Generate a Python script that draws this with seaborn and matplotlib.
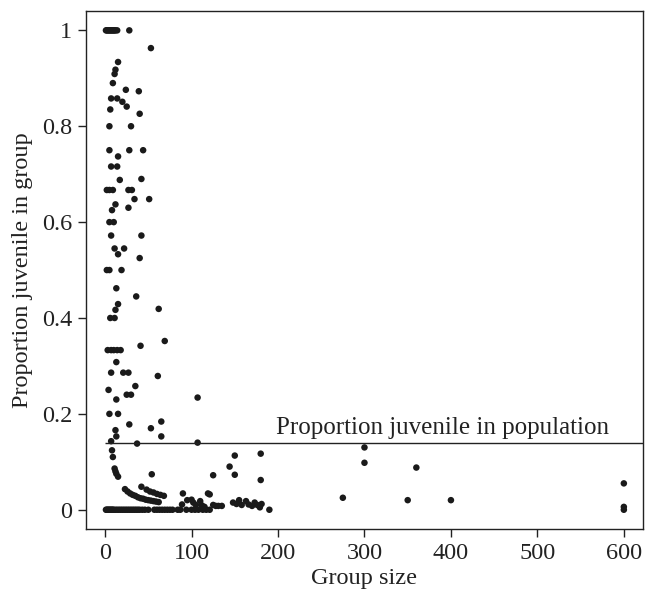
import matplotlib
matplotlib.use("Agg")
import matplotlib.pyplot as plt
import seaborn as sns
import pandas as pd

# Group size and proportion of juveniles per group
group_size = [
    # proportion = 1
    1, 2, 3, 4, 5, 6, 7, 8, 9, 10, 11, 12, 14, 28,
    # upper scatter
    53, 15, 12, 11, 9, 24, 39, 7, 14, 20, 25, 6, 40, 5, 30,
    5, 28, 44, 15, 7, 14, 17, 42, 2, 5, 9, 27, 31, 34, 51,
    12, 8, 27, 5, 10, 7, 42, 11, 22, 15, 40,
    2, 5, 19, 13, 36, 15, 12, 62, 6, 11, 69, 41,
    3, 7, 10, 14, 18, 13, 7, 21, 27, 61,
    4, 35, 25, 30, 13, 107, 5, 15, 28, 65, 53, 12, 13, 65, 7, 37, 107,
    8, 9, 11, 12, 13, 15, 54, 42,
    # low-proportion groups
    23, 26, 29, 32, 35, 38, 41, 44, 47, 50, 53, 56, 59, 62,
    48, 52, 56, 60, 64, 68,
    90, 89, 95, 100, 102, 105, 110, 112, 115, 119, 121, 125, 128, 131, 135,
    148, 152, 155, 158, 163, 166, 170, 173, 176, 179, 181,
    125, 144, 150, 150, 180, 180,
    275, 300, 300, 350, 360, 400, 600, 600, 600,
    # proportion = 0
    1, 2, 3, 4, 5, 6, 7, 8, 9, 10, 12, 14, 16, 18, 20, 22, 24, 26, 28, 30,
    32, 34, 36, 38, 40, 43, 46, 50, 57, 60, 63, 66, 69, 72, 75, 78,
    84, 87, 94, 100, 104, 108, 113, 117, 121, 190,
]
prop_juvenile = [
    1, 1, 1, 1, 1, 1, 1, 1, 1, 1, 1, 1, 1, 1,
    0.963, 0.934, 0.918, 0.909, 0.89, 0.876, 0.873, 0.858, 0.858, 0.851, 0.841, 0.835, 0.826, 0.80, 0.80,
    0.75, 0.75, 0.75, 0.737, 0.716, 0.716, 0.688, 0.69, 0.667, 0.667, 0.667, 0.667, 0.667, 0.648, 0.648,
    0.637, 0.625, 0.63, 0.60, 0.60, 0.572, 0.572, 0.545, 0.545, 0.533, 0.525,
    0.50, 0.50, 0.50, 0.462, 0.445, 0.429, 0.417, 0.419, 0.40, 0.40, 0.352, 0.342,
    0.333, 0.333, 0.333, 0.333, 0.333, 0.308, 0.286, 0.286, 0.286, 0.279,
    0.25, 0.258, 0.24, 0.24, 0.23, 0.234, 0.20, 0.20, 0.178, 0.184, 0.17, 0.166, 0.153, 0.153, 0.143, 0.138, 0.14,
    0.124, 0.11, 0.086, 0.08, 0.075, 0.069, 0.074, 0.048,
    0.043, 0.038, 0.034, 0.031, 0.029, 0.026, 0.024, 0.023, 0.021, 0.020, 0.019, 0.018, 0.017, 0.016,
    0.042, 0.038, 0.036, 0.033, 0.031, 0.029,
    0.034, 0.011, 0.02, 0.021, 0.015, 0.01, 0.018, 0.009, 0.006, 0.034, 0.032, 0.01, 0.008, 0.008, 0.008,
    0.015, 0.012, 0.02, 0.01, 0.018, 0.011, 0.008, 0.015, 0.01, 0.005, 0.012,
    0.072, 0.09, 0.113, 0.073, 0.117, 0.062,
    0.025, 0.13, 0.098, 0.02, 0.088, 0.02, 0.055, 0.006, 0.0,
    0, 0, 0, 0, 0, 0, 0, 0, 0, 0, 0, 0, 0, 0, 0, 0, 0, 0, 0, 0,
    0, 0, 0, 0, 0, 0, 0, 0, 0, 0, 0, 0, 0, 0, 0, 0,
    0, 0, 0, 0, 0, 0, 0, 0, 0, 0,
]
population_proportion = 0.14
reference_label = "Proportion juvenile in population"
x_ticks = [0, 100, 200, 300, 400, 500, 600]
y_ticks = [0, 0.2, 0.4, 0.6, 0.8, 1.0]
y_tick_labels = ["0", "0.2", "0.4", "0.6", "0.8", "1"]

df = pd.DataFrame({"Group size": group_size, "Proportion juvenile in group": prop_juvenile})

sns.set_theme(style="ticks")
plt.rcParams["font.family"] = ["Liberation Serif", "DejaVu Serif"]
ink = "#222222"

fig = plt.figure(figsize=(6.52, 5.89), dpi=100)
ax = fig.add_axes([0.132, 0.102, 0.854, 0.879])

sns.scatterplot(data=df, x="Group size", y="Proportion juvenile in group", ax=ax,
                color="#1a1a1a", s=22, linewidth=0, edgecolor="none")

ax.set_xlim(-22, 622)
ax.set_ylim(-0.04, 1.04)
ax.hlines(population_proportion, 0, 622, color=ink, linewidth=1.0)
ax.text(198, 0.158, reference_label, fontsize=18, color=ink, va="baseline", ha="left")

ax.set_xticks(x_ticks)
ax.set_yticks(y_ticks)
ax.set_yticklabels(y_tick_labels)
ax.tick_params(axis="both", direction="out", length=6, width=1, labelsize=17.5, colors=ink, pad=4)
for sp in ax.spines.values():
    sp.set_visible(True)
    sp.set_linewidth(1.0)
    sp.set_color(ink)

ax.set_xlabel("Group size", fontsize=17.5, color=ink, labelpad=3)
ax.set_ylabel("Proportion juvenile in group", fontsize=17.5, color=ink, labelpad=6)

fig.savefig("out.png", dpi=100)
